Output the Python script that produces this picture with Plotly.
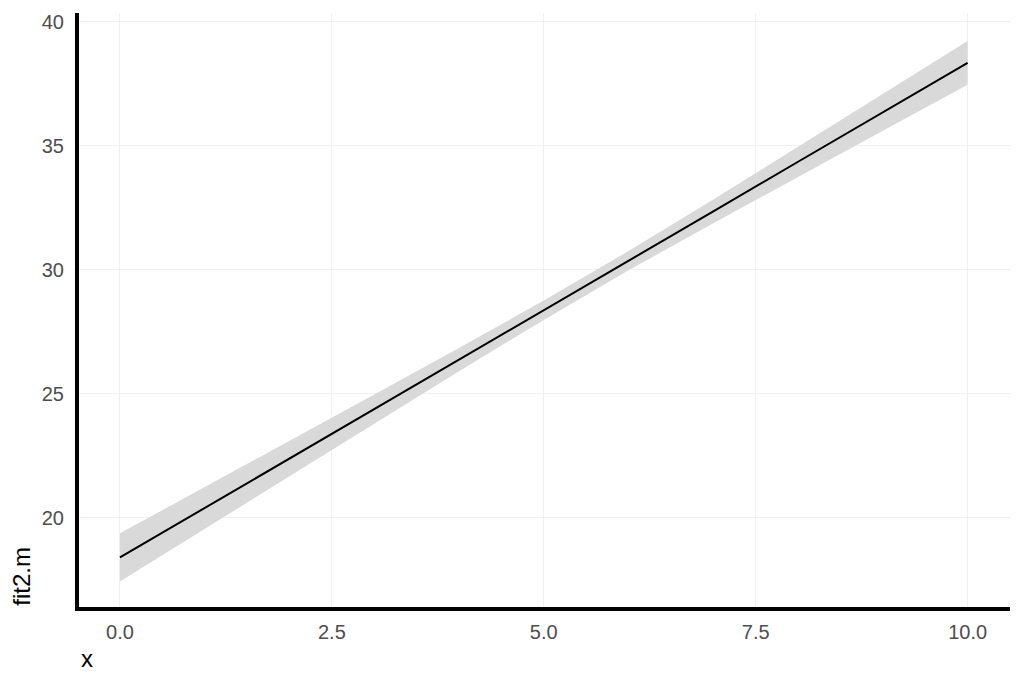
import plotly.graph_objects as go

x_vals = [0, 1, 2, 3, 4, 5, 6, 7, 8, 9, 10]
fit_vals = [18.40, 20.39, 22.39, 24.38, 26.38, 28.37, 30.37, 32.36, 34.36, 36.35, 38.35]
lower_vals = [17.43, 19.55, 21.68, 23.79, 25.91, 27.98, 29.98, 31.88, 33.76, 35.61, 37.47]
upper_vals = [19.37, 21.23, 23.10, 24.97, 26.85, 28.76, 30.76, 32.84, 34.96, 37.09, 39.23]

x_ticks = [0, 2.5, 5, 7.5, 10]
x_tick_labels = ["0.0", "2.5", "5.0", "7.5", "10.0"]
y_ticks = [20, 25, 30, 35, 40]
y_tick_labels = ["20", "25", "30", "35", "40"]

fig = go.Figure()
fig.add_trace(go.Scatter(x=x_vals, y=lower_vals, mode="lines", line=dict(width=0),
                         hoverinfo="skip", showlegend=False))
fig.add_trace(go.Scatter(x=x_vals, y=upper_vals, mode="lines", line=dict(width=0),
                         fill="tonexty", fillcolor="rgb(217,217,217)",
                         hoverinfo="skip", showlegend=False))
fig.add_trace(go.Scatter(x=x_vals, y=fit_vals, mode="lines",
                         line=dict(color="black", width=2), showlegend=False))

font = "Liberation Sans, Arial, sans-serif"
tick_font = dict(family=font, size=20, color="#4d4d4d")
# page body adds an 8px offset, so the figure is sized 8px smaller
fig.update_layout(
    width=1016, height=675,
    margin=dict(l=71, r=14, t=5, b=76),
    plot_bgcolor="white", paper_bgcolor="white",
    font=dict(family=font, size=20, color="#4d4d4d"),
    xaxis=dict(range=[-0.483, 10.5], tickvals=x_ticks, ticktext=x_tick_labels,
               tickfont=tick_font,
               showgrid=True, gridcolor="#f0f0f0", gridwidth=1, zeroline=False,
               showline=True, linecolor="black", linewidth=4, ticks="",
               ticklabelstandoff=4, automargin=False),
    yaxis=dict(range=[16.40, 40.36], tickvals=y_ticks, ticktext=y_tick_labels,
               tickfont=tick_font,
               showgrid=True, gridcolor="#f0f0f0", gridwidth=1, zeroline=False,
               showline=True, linecolor="black", linewidth=4, ticks="",
               ticklabelstandoff=7, automargin=False),
    annotations=[
        dict(text="x", xref="paper", yref="paper", x=0.0, y=-0.0859,
             xanchor="left", yanchor="middle", showarrow=False,
             font=dict(family=font, size=24, color="black")),
        dict(text="fit2.m", xref="paper", yref="paper", x=-0.0612, y=-0.002,
             xanchor="center", yanchor="bottom", textangle=-90, showarrow=False,
             font=dict(family=font, size=24, color="black")),
    ],
)

fig.write_html("out.html")
